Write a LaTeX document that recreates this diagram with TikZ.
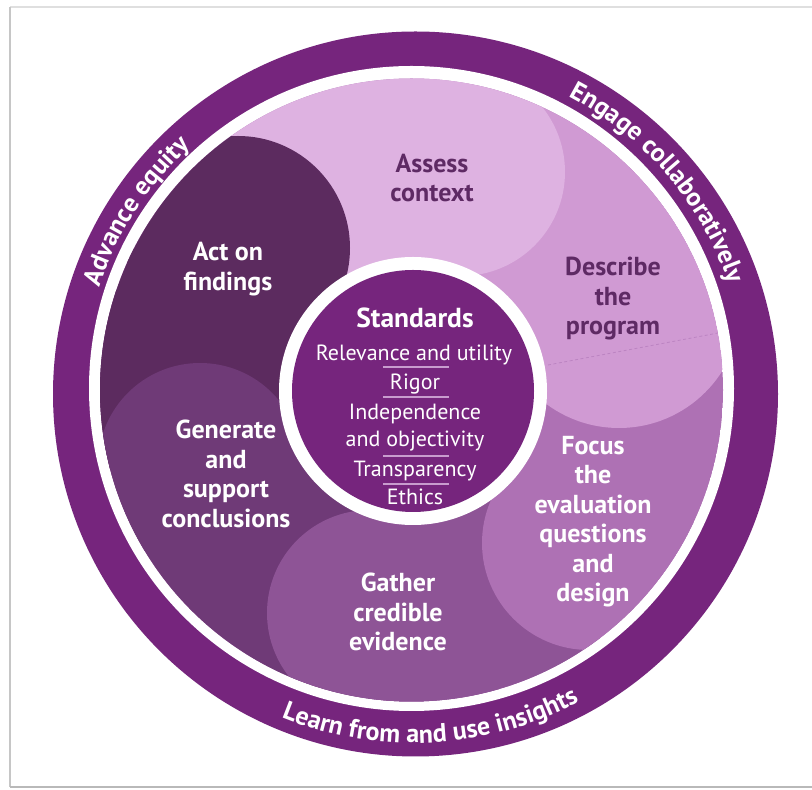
\documentclass[tikz,border=0pt]{standalone}
\usepackage{fontspec}
\setmainfont{PT Sans}
\usetikzlibrary{decorations.text}
\definecolor{ringc}{RGB}{118,37,125}
\definecolor{assessc}{RGB}{222,178,225}
\definecolor{describec}{RGB}{208,154,211}
\definecolor{focusc}{RGB}{174,113,180}
\definecolor{gatherc}{RGB}{142,84,150}
\definecolor{generatec}{RGB}{111,58,119}
\definecolor{actc}{RGB}{92,43,95}
\definecolor{darktext}{RGB}{94,42,100}
\definecolor{sepc}{RGB}{200,156,206}
\definecolor{dashc}{RGB}{188,132,194}
\tikzset{
  lbl/.style={font=\bfseries\fontsize{26}{29.5}\selectfont, align=center, inner sep=0pt, text=white},
  dlbl/.style={lbl, text=darktext},
  stdtitle/.style={font=\bfseries\fontsize{27.5}{30}\selectfont, text=white, inner sep=0pt, anchor=base},
  stditem/.style={font=\fontsize{22}{26}\selectfont, text=white, inner sep=0pt, anchor=base},
  sepline/.style={draw=sepc, line width=1.6pt},
  ringtext/.style={decorate, decoration={text along path, text align=center, text color=white}}
}
\begin{document}
\begin{tikzpicture}[x=1pt,y=1pt]
\useasboundingbox (0,0) rectangle (812,790);
\fill[white] (0,0) rectangle (812,790);
% frame shadow lines
\draw[gray!25, line width=1.2pt] (10,783) -- (812,783);
\draw[gray!45, line width=2pt] (10,3) -- (10,783);
\draw[gray!55, line width=2.5pt] (10,3) -- (812,3);

\begin{scope}[shift={(0,790)}, yscale=-1]
  % outer ring
  \fill[ringc] (415.5,394) circle[radius=362.5];
  \fill[white] (411.5,388.5) circle[radius=322.5];
  \begin{scope}
    \clip (411.5,390) circle[radius=311.5];
    % base: focus
    \fill[focusc] (411.5,390) circle[radius=312];
    % describe
    \fill[describec] (619,306) circle[radius=122];
    \fill[describec] (470,40) rectangle (745,306);
    \draw[dashc, line width=0.8pt, dash pattern=on 3pt off 2.5pt] (548,365) -- (718,333);
    % assess
    \fill[assessc] (461,172) circle[radius=104];
    \fill[assessc] (95,40) rectangle (470,280);
    % act
    \fill[actc] (238,248) circle[radius=112];
    \fill[actc] (95,248) rectangle (238,470);
    \fill[actc] (95,290) rectangle (340,470);
    % generate
    \fill[generatec] (200,465) circle[radius=102];
    \fill[generatec] (95,465) rectangle (370,720);
    % gather
    \fill[gatherc] (370,613) circle[radius=103];
    \fill[gatherc] (370,490) rectangle (500,720);
    \fill[gatherc] (370,560) rectangle (600,720);
    % focus lobe
    \fill[focusc] (589,543) circle[radius=107];
  \end{scope}
  % standards circle
  \fill[white] (413,391) circle[radius=134];
  \fill[ringc] (413,391) circle[radius=121];

  % labels
  \node[dlbl] (assess) at (432,178) {Assess\\context};
  \node[lbl] (act) at (228,269) {Act on\\findings};
  \node[dlbl] (describe) at (613,299) {Describe\\the\\program};
  \node[lbl] (generate) at (226,474) {Generate\\and\\support\\conclusions};
  \node[lbl] (gather) at (398,612) {Gather\\credible\\evidence};
  \node[lbl] (focus) at (593,521.5) {Focus\\the\\evaluation\\questions\\and\\design};

  % standards
  \node[stdtitle] (s0) at (415,328) {Standards};
  \node[stditem] (s1) at (414,361) {Relevance and utility};
  \draw[sepline] (383,367) -- (449,367);
  \node[stditem] (s2) at (415,390) {Rigor};
  \draw[sepline] (383,397) -- (449,397);
  \node[stditem] (s3) at (415,420) {Independence};
  \node[stditem] (s4) at (415,447) {and objectivity};
  \draw[sepline] (383,456) -- (449,456);
  \node[stditem] (s5) at (415,476.5) {Transparency};
  \draw[sepline] (383,484) -- (449,484);
  \node[stditem] (s6) at (415,505) {Ethics};
\end{scope}

% ring texts (y-up coordinates)
\coordinate (C) at (413.5,399);
\path[ringtext, decoration={text={|\bfseries\fontsize{26}{26}\selectfont|Advance equity}}]
  ([shift={(177:331)}]C) arc[start angle=177, end angle=117, radius=331];
\path[ringtext, decoration={text={|\bfseries\fontsize{26}{26}\selectfont|Engage collaboratively}}]
  ([shift={(76:333)}]C) arc[start angle=76, end angle=5, radius=333];
\path[ringtext, decoration={text={|\bfseries\fontsize{26}{26}\selectfont|Learn from and use insights}}]
  ([shift={(238:352)}]C) arc[start angle=238, end angle=308, radius=352];
\end{tikzpicture}
\end{document}
